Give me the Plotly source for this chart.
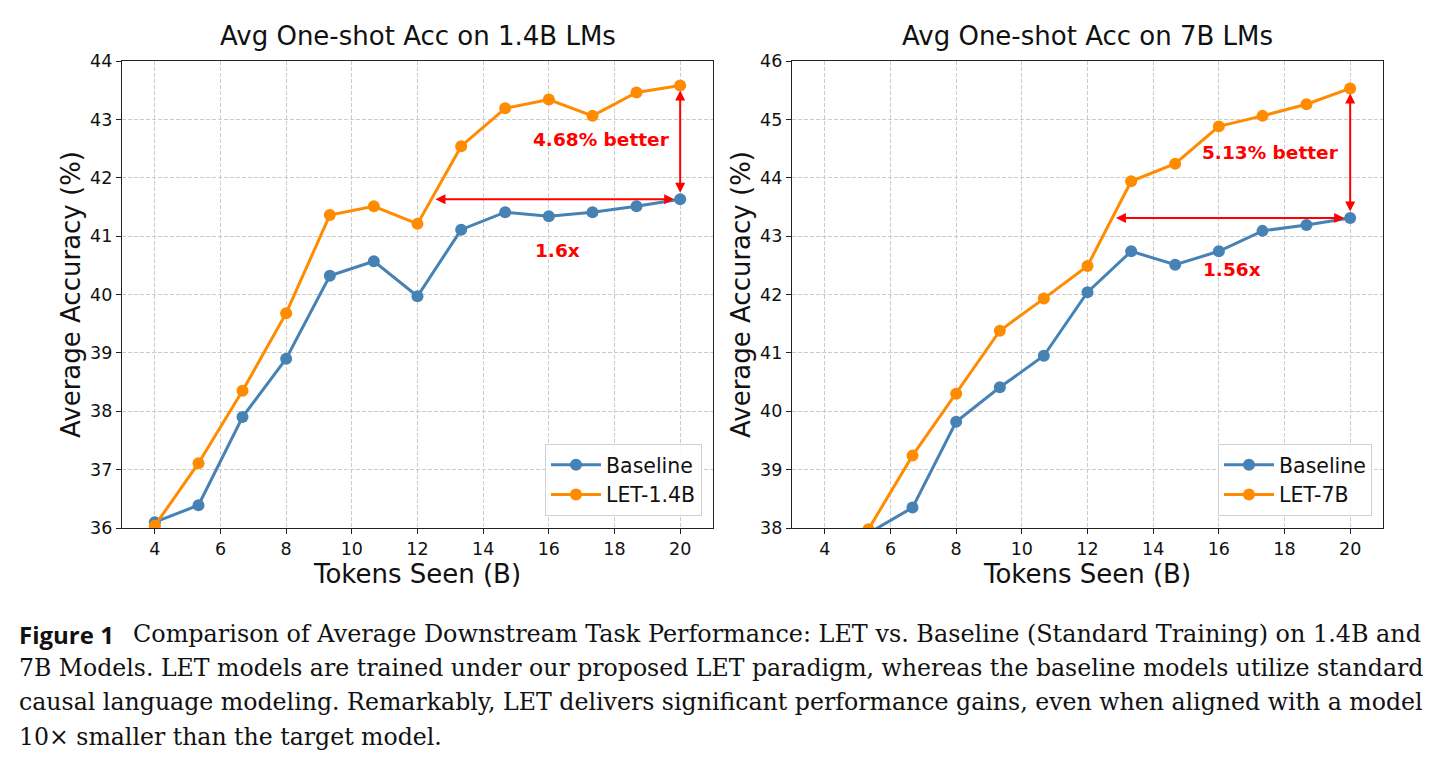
import plotly.graph_objects as go

# ---------------- data ----------------
tokens = [4, 5.33, 6.67, 8, 9.33, 10.67, 12, 13.33, 14.67, 16, 17.33, 18.67, 20]

baseline_14b = [36.10, 36.39, 37.90, 38.90, 40.32, 40.57, 39.97, 41.11, 41.41, 41.34, 41.41, 41.51, 41.63]
let_14b = [36.04, 37.11, 38.35, 39.68, 41.36, 41.51, 41.21, 42.54, 43.19, 43.34, 43.06, 43.46, 43.58]

baseline_7b = [37.20, 37.91, 38.35, 39.82, 40.41, 40.95, 42.04, 42.74, 42.51, 42.74, 43.09, 43.19, 43.31]
let_7b = [36.90, 37.98, 39.24, 40.30, 41.38, 41.93, 42.49, 43.94, 44.24, 44.88, 45.06, 45.26, 45.53]

xticks = [4, 6, 8, 10, 12, 14, 16, 18, 20]
yticks_14b = [36, 37, 38, 39, 40, 41, 42, 43, 44]
yticks_7b = [38, 39, 40, 41, 42, 43, 44, 45, 46]

titles = ["Avg One-shot Acc on 1.4B LMs", "Avg One-shot Acc on 7B LMs"]
series_names = [("Baseline", "LET-1.4B"), ("Baseline", "LET-7B")]
speedups = [1.6, 1.56]
gain_labels = ["4.68% better", "5.13% better"]
speed_labels = ["1.6x", "1.56x"]
gain_text_pos = [(17.6, 42.65), (17.56, 44.44)]
speed_text_pos = [(16.26, 40.75), (16.4, 42.43)]

caption_lines = [
    "Comparison of Average Downstream Task Performance: LET vs. Baseline (Standard Training) on 1.4B and",
    "7B Models. LET models are trained under our proposed LET paradigm, whereas the baseline models utilize standard",
    "causal language modeling. Remarkably, LET delivers significant performance gains, even when aligned with a model",
    "10\u00d7 smaller than the target model.",
]

# ---------------- style ----------------
W, H = 1443, 765
BLUE = "#4682B4"
ORANGE = "#FF8C00"
RED = "#FF0000"
SANS = "DejaVu Sans"

def px_x(p):
    return p / W

def px_y(p):
    return 1 - p / H

x_domains = [[px_x(122), px_x(713)], [px_x(792), px_x(1383)]]
y_domain = [px_y(528), px_y(61)]

fig = go.Figure()

panels = [
    (baseline_14b, let_14b, yticks_14b),
    (baseline_7b, let_7b, yticks_7b),
]

for i, (base, let, yt) in enumerate(panels):
    xa = "x" if i == 0 else "x2"
    ya = "y" if i == 0 else "y2"
    leg = "legend" if i == 0 else "legend2"
    fig.add_trace(go.Scatter(
        x=tokens, y=base, mode="lines+markers", name=series_names[i][0],
        line=dict(color=BLUE, width=3), marker=dict(color=BLUE, size=12),
        xaxis=xa, yaxis=ya, legend=leg,
    ))
    fig.add_trace(go.Scatter(
        x=tokens, y=let, mode="lines+markers", name=series_names[i][1],
        line=dict(color=ORANGE, width=3), marker=dict(color=ORANGE, size=12),
        xaxis=xa, yaxis=ya, legend=leg,
    ))

axis_common = dict(
    showline=True, mirror=True, linecolor="#222222", linewidth=1.2,
    ticks="outside", ticklen=5, tickwidth=1.2, tickcolor="#222222",
    showgrid=True, gridcolor="#cccccc", griddash="4px,2px", gridwidth=1,
    zeroline=False, automargin=False,
    tickfont=dict(family=SANS, size=17.5, color="#111111"),
)

for i in range(2):
    xkey = "xaxis" if i == 0 else "xaxis2"
    ykey = "yaxis" if i == 0 else "yaxis2"
    yt = panels[i][2]
    fig.update_layout({
        xkey: dict(axis_common, domain=x_domains[i], range=[3, 21], tickvals=xticks,
                   anchor="y" if i == 0 else "y2",
                   title=dict(text="Tokens Seen (B)", font=dict(family=SANS, size=26, color="#111111"),
                              standoff=0)),
        ykey: dict(axis_common, domain=y_domain, range=[yt[0], yt[-1]], tickvals=yt,
                   anchor="x" if i == 0 else "x2",
                   title=dict(text="Average Accuracy (%)", font=dict(family=SANS, size=26, color="#111111"),
                              standoff=2)),
    })

annotations = []
for i in range(2):
    xr = "x" if i == 0 else "x2"
    yr = "y" if i == 0 else "y2"
    base, let, _ = panels[i]
    # subplot title
    annotations.append(dict(
        text=titles[i], xref="paper", yref="paper",
        x=(x_domains[i][0] + x_domains[i][1]) / 2, y=px_y(36),
        xanchor="center", yanchor="middle", showarrow=False,
        font=dict(family=SANS, size=26, color="#111111"),
    ))
    # vertical double arrow (accuracy gain)
    annotations.append(dict(
        x=tokens[-1], y=let[-1], ax=tokens[-1], ay=base[-1],
        xref=xr, yref=yr, axref=xr, ayref=yr, text="",
        showarrow=True, arrowside="end+start", arrowhead=2, startarrowhead=2,
        arrowsize=1, startarrowsize=1, arrowwidth=2, arrowcolor=RED,
        standoff=5, startstandoff=5,
    ))
    # horizontal double arrow (token speedup)
    annotations.append(dict(
        x=tokens[-1], y=base[-1], ax=tokens[-1] / speedups[i], ay=base[-1],
        xref=xr, yref=yr, axref=xr, ayref=yr, text="",
        showarrow=True, arrowside="end+start", arrowhead=2, startarrowhead=2,
        arrowsize=1, startarrowsize=1, arrowwidth=2, arrowcolor=RED,
        standoff=6, startstandoff=0,
    ))
    annotations.append(dict(
        text="<b>%s</b>" % gain_labels[i], x=gain_text_pos[i][0], y=gain_text_pos[i][1],
        xref=xr, yref=yr, showarrow=False, xanchor="center", yanchor="middle",
        font=dict(family=SANS, size=18.5, color=RED),
    ))
    annotations.append(dict(
        text="<b>%s</b>" % speed_labels[i], x=speed_text_pos[i][0], y=speed_text_pos[i][1],
        xref=xr, yref=yr, showarrow=False, xanchor="center", yanchor="middle",
        font=dict(family=SANS, size=18.5, color=RED),
    ))

# caption
caption_y = [634, 668, 702, 737]
annotations.append(dict(
    text="<b>Figure 1</b>", xref="paper", yref="paper", x=px_x(17), y=px_y(caption_y[0]),
    xanchor="left", yanchor="middle", showarrow=False,
    font=dict(family="Open Sans", size=24, color="#111111"),
))
caption_x = [131, 17, 17, 17]
caption_size = [23.9, 23.6, 23.65, 23.6]
for j, line in enumerate(caption_lines):
    annotations.append(dict(
        text=line, xref="paper", yref="paper", x=px_x(caption_x[j]), y=px_y(caption_y[j]),
        xanchor="left", yanchor="middle", showarrow=False,
        font=dict(family="DejaVu Serif", size=caption_size[j], color="#111111"),
    ))

legend_common = dict(
    bgcolor="rgba(255,255,255,0.85)", bordercolor="#d0d0d0", borderwidth=1,
    font=dict(family=SANS, size=20.5, color="#111111"),
    xanchor="right", yanchor="bottom", tracegroupgap=2, itemwidth=50,
)

fig.update_layout(
    width=W, height=H, margin=dict(l=0, r=0, t=0, b=0, autoexpand=False),
    paper_bgcolor="white", plot_bgcolor="white",
    annotations=annotations,
    legend=dict(legend_common, x=px_x(702), y=px_y(516)),
    legend2=dict(legend_common, x=px_x(1372), y=px_y(516)),
    showlegend=True,
)

fig.write_html("out.html")
